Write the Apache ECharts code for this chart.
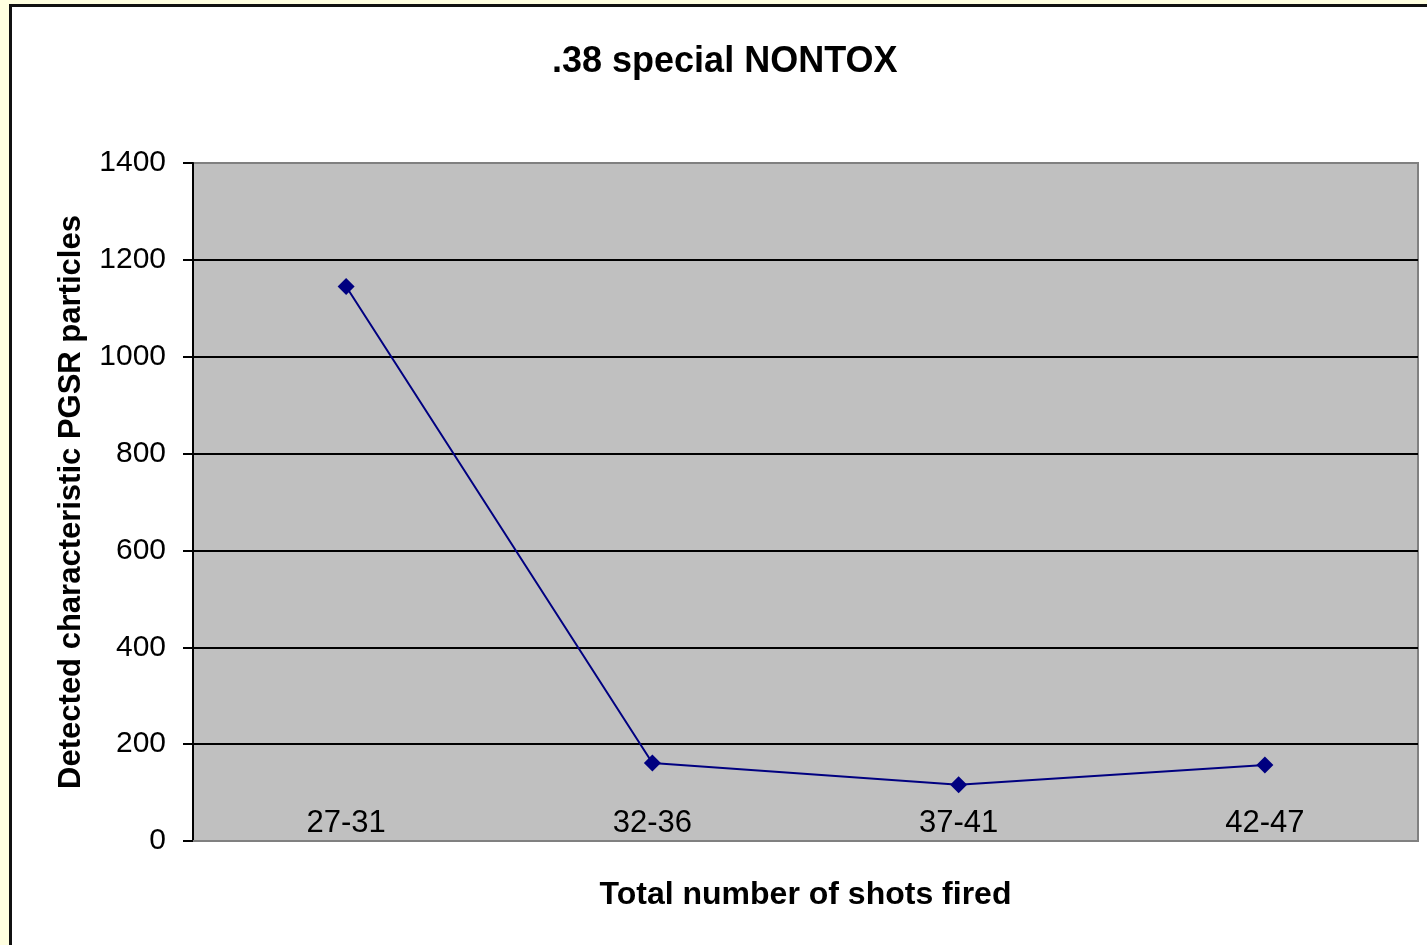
<!DOCTYPE html>
<html>
<head>
<meta charset="utf-8">
<script src="https://cdn.jsdelivr.net/npm/echarts@6/dist/echarts.min.js"></script>
<style>
html,body{margin:0;padding:0;background:#FFFFE0;width:1427px;height:945px;overflow:hidden;}
#frame{position:absolute;left:9px;top:4px;width:1418px;height:941px;background:#fff;border-top:3px solid #111;border-left:3px solid #111;box-sizing:border-box;}
#chart{position:absolute;left:0;top:0;width:1427px;height:945px;}
</style>
</head>
<body>
<div id="frame"></div>
<div id="chart"></div>
<script>
const titleText = '.38 special NONTOX';
const categories = ['27-31', '32-36', '37-41', '42-47'];
const particles = [1145, 161, 116, 157];
const xAxisName = 'Total number of shots fired';
const yAxisName = 'Detected characteristic PGSR particles';

const chart = echarts.init(document.getElementById('chart'), null, {renderer: 'canvas'});
const font = 'Liberation Sans, Arial, sans-serif';
chart.setOption({
  backgroundColor: 'transparent',
  animation: false,
  title: {
    text: titleText,
    left: 547,
    top: 39,
    textStyle: {fontFamily: font, fontSize: 36, fontWeight: 'bold', color: '#000'}
  },
  grid: {
    left: 193, top: 163, right: 9, bottom: 104,
    show: true, backgroundColor: '#C0C0C0', borderColor: '#808080', borderWidth: 2
  },
  xAxis: {
    type: 'category',
    data: categories,
    boundaryGap: true,
    name: xAxisName,
    nameLocation: 'middle',
    nameGap: 38,
    nameTextStyle: {fontFamily: font, fontSize: 32, fontWeight: 'bold', color: '#000'},
    axisLine: {lineStyle: {color: '#808080', width: 2}},
    axisTick: {show: false},
    axisLabel: {inside: true, margin: 2, fontFamily: font, fontSize: 31, color: '#000'},
    splitLine: {show: false}
  },
  yAxis: {
    type: 'value',
    min: 0, max: 1400, interval: 200,
    name: yAxisName,
    nameLocation: 'middle',
    nameGap: 106,
    nameTextStyle: {fontFamily: font, fontSize: 31, fontWeight: 'bold', color: '#000'},
    axisLine: {show: true, lineStyle: {color: '#000', width: 2}},
    axisTick: {show: true, length: 10, lineStyle: {color: '#000', width: 2}},
    axisLabel: {margin: 27, fontFamily: font, fontSize: 30, color: '#000', formatter: v => String(v)},
    splitLine: {show: true, lineStyle: {color: ['#808080','#000','#000','#000','#000','#000','#000','#808080'], width: 2}}
  },
  series: [{
    type: 'line',
    data: particles,
    symbol: 'diamond',
    symbolSize: 17,
    lineStyle: {color: '#000080', width: 2},
    itemStyle: {color: '#000080'}
  }]
});
</script>
</body>
</html>
